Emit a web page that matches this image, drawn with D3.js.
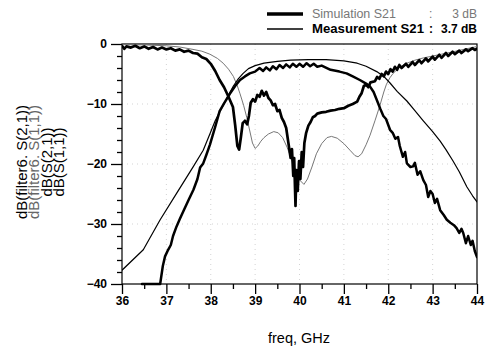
<!DOCTYPE html>
<html><head><meta charset="utf-8">
<script src="https://cdn.jsdelivr.net/npm/d3@7"></script>
<style>
html,body{margin:0;padding:0;background:#fff;}
svg{display:block;font-family:"Liberation Sans",Arial,sans-serif;}
</style></head>
<body><svg id="c" width="486" height="351"></svg>
<script>
// ---- data ----
const xTicks = [36,37,38,39,40,41,42,43,44];
const yTicks = [0,-10,-20,-30,-40];
const legendNames = ["Simulation S21", "Measurement S21"];
const legendValues = ["3 dB", "3.7 dB"];
const yLabelLines = ["dB(filter6. S(2,1))","dB(filter6. S(1,1))","dB(S(2,1))","dB(S(1,1))"];
const xLabel = "freq, GHz";

// thick noisy reflection curve
const s11MeasF = [36.0,36.05,36.1,36.2,36.3,36.4,36.5,36.6,36.7,36.8,36.9,37.0,37.1,37.2,37.3,37.4,37.5,37.6,37.7,37.8,37.9,38.0,38.1,38.2,38.3,38.4,38.5,38.55,38.6,38.64,38.68,38.72,38.77,38.82,38.86,38.9,38.95,39.0,39.05,39.1,39.15,39.2,39.25,39.3,39.35,39.4,39.45,39.5,39.55,39.6,39.65,39.7,39.75,39.8,39.83,39.86,39.88,39.91,39.93,39.96,39.99,40.02,40.05,40.08,40.11,40.15,40.2,40.25,40.3,40.35,40.4,40.5,40.6,40.7,40.8,40.9,41.0,41.1,41.2,41.3,41.35,41.4,41.45,41.5,41.55,41.6,41.7,41.75,41.8,41.85,41.9,41.95,42.0,42.05,42.1,42.15,42.2,42.25,42.3,42.4,42.45,42.55,42.6,42.7,42.75,42.85,42.9,43.0,43.05,43.15,43.2,43.3,43.35,43.45,43.5,43.6,43.65,43.75,43.8,43.9,43.95,44.0];
const s11MeasDb = [-0.3,-0.8,-0.4,-0.6,-0.3,-0.7,-0.4,-0.8,-0.5,-0.9,-0.6,-0.9,-0.7,-1.1,-0.9,-1.3,-1.1,-1.5,-1.6,-2.2,-2.5,-3.3,-4.5,-6.0,-7.2,-8.8,-10.5,-13.5,-17.0,-17.6,-15.5,-13.2,-12.8,-13.4,-12.0,-9.8,-9.2,-9.6,-8.5,-8.8,-7.8,-8.6,-8.0,-9.0,-9.4,-10.2,-10.0,-11.2,-11.0,-12.3,-13.0,-14.0,-16.5,-19.0,-17.5,-22.0,-19.0,-27.0,-21.0,-24.5,-19.5,-22.5,-18.0,-20.5,-16.5,-14.8,-13.6,-13.0,-12.2,-12.0,-11.6,-11.4,-11.3,-11.1,-11.0,-10.8,-10.7,-10.3,-10.0,-9.6,-8.8,-8.2,-7.0,-6.8,-7.2,-6.4,-6.2,-5.5,-5.8,-5.0,-5.4,-4.6,-5.0,-4.2,-4.6,-3.8,-4.3,-3.5,-4.0,-3.3,-3.8,-3.0,-3.5,-2.7,-3.2,-2.4,-2.9,-2.1,-2.6,-1.8,-2.3,-1.5,-2.0,-1.3,-1.7,-1.1,-1.5,-0.9,-1.2,-0.7,-1.0,-0.8];

// thick noisy transmission curve
const s21MeasF = [36.45,36.86,36.92,36.97,37.04,37.1,37.15,37.23,37.3,37.38,37.5,37.61,37.7,37.76,37.83,37.9,37.98,38.1,38.2,38.3,38.43,38.55,38.66,38.77,38.88,39.0,39.1,39.18,39.25,39.33,39.4,39.48,39.55,39.63,39.7,39.78,39.85,39.93,40.0,40.08,40.16,40.24,40.32,40.4,40.5,40.7,40.9,41.06,41.2,41.36,41.5,41.59,41.67,41.74,41.82,41.89,41.95,42.04,42.1,42.16,42.22,42.26,42.33,42.38,42.42,42.5,42.56,42.6,42.66,42.72,42.79,42.85,42.9,42.95,43.0,43.05,43.1,43.17,43.25,43.32,43.4,43.48,43.54,43.6,43.65,43.69,43.75,43.8,43.86,43.9,43.95,44.0];
const s21MeasDb = [-40,-40,-37.0,-35.4,-34.3,-33.5,-32.0,-30.4,-29.2,-27.9,-26.0,-24.3,-22.5,-20.6,-19.9,-18.5,-16.8,-13.8,-11.2,-9.9,-8.3,-7.0,-6.0,-5.4,-4.9,-4.6,-4.0,-4.5,-3.9,-4.4,-3.7,-4.2,-3.5,-4.0,-3.4,-3.9,-3.3,-3.8,-3.3,-3.8,-3.2,-3.7,-3.3,-3.8,-3.6,-4.3,-4.6,-4.9,-5.4,-6.0,-6.6,-7.1,-8.0,-9.3,-10.8,-12.0,-12.5,-14.3,-14.8,-15.8,-15.5,-17.0,-18.8,-18.0,-19.9,-20.5,-20.4,-19.8,-21.8,-21.2,-22.7,-23.5,-25.5,-24.5,-25.0,-26.5,-25.8,-27.7,-28.5,-29.3,-29.8,-30.2,-30.7,-31.5,-30.8,-31.5,-33.2,-32.0,-33.5,-32.8,-34.5,-35.5];

// thin smooth transmission curve
const s21SimF = [36.0,36.48,36.86,37.23,37.61,37.83,37.98,38.1,38.28,38.4,38.51,38.62,38.73,38.85,39.0,39.2,39.5,39.8,40.2,40.6,41.0,41.3,41.5,41.74,41.9,42.04,42.2,42.42,42.6,42.79,43.0,43.17,43.3,43.46,43.6,43.77,43.9,44.0];
const s21SimDb = [-37.7,-34.3,-29.3,-24.9,-20.4,-17.7,-15.0,-12.8,-10.2,-8.5,-7.0,-5.8,-4.9,-4.1,-3.6,-3.2,-2.9,-2.7,-2.6,-2.6,-2.8,-3.2,-3.7,-4.6,-5.4,-6.5,-7.9,-9.5,-11.1,-12.8,-14.6,-16.2,-17.6,-19.5,-21.3,-23.8,-25.3,-26.3];

// thin smooth reflection curve
const s11SimF = [36.0,36.5,37.0,37.3,37.6,37.8,37.98,38.15,38.28,38.4,38.51,38.6,38.66,38.74,38.81,38.88,38.94,39.0,39.06,39.13,39.2,39.3,39.42,39.52,39.62,39.72,39.82,39.92,40.02,40.1,40.18,40.28,40.38,40.5,40.62,40.72,40.85,41.0,41.15,41.25,41.32,41.4,41.5,41.59,41.7,41.81,41.9,41.96,42.04,42.11,42.25,42.42,42.6,42.8,42.94,43.2,43.46,43.7,43.95,44.0];
const s11SimDb = [-0.1,-0.15,-0.3,-0.5,-0.9,-1.2,-1.7,-2.4,-3.2,-4.2,-5.4,-7.0,-8.3,-10.2,-12.2,-14.5,-16.5,-17.4,-17.0,-16.2,-15.6,-15.0,-14.6,-14.8,-15.6,-17.2,-19.2,-21.3,-22.8,-23.4,-22.5,-20.5,-18.3,-16.6,-15.6,-15.4,-15.7,-16.6,-17.8,-18.6,-18.8,-18.3,-16.8,-15.2,-12.8,-10.3,-8.0,-6.7,-5.6,-4.9,-3.9,-3.2,-2.7,-2.3,-2.1,-1.7,-1.3,-0.9,-0.5,-0.4];

// ---- chart ----
const svg = d3.select("#c");
const L = 122, R = 477, T = 44, B = 284;
const x = d3.scaleLinear().domain([36,44]).range([L,R]);
const y = d3.scaleLinear().domain([-40,0]).range([B,T]);

// faint dotted grid
const g = svg.append("g");
g.selectAll(".gx").data(xTicks.slice(1,-1)).join("line")
  .attr("x1",d=>x(d)).attr("x2",d=>x(d)).attr("y1",T).attr("y2",B)
  .attr("stroke","#c8c8c8").attr("stroke-width",0.8).attr("stroke-dasharray","1,4");
g.selectAll(".gy").data(yTicks.slice(1,-1)).join("line")
  .attr("y1",d=>y(d)).attr("y2",d=>y(d)).attr("x1",L).attr("x2",R)
  .attr("stroke","#c8c8c8").attr("stroke-width",0.8).attr("stroke-dasharray","1,4");

// frame
svg.append("rect").attr("x",L).attr("y",T).attr("width",R-L).attr("height",B-T)
  .attr("fill","none").attr("stroke","#000").attr("stroke-width",1.2);

// axes
const xAxis = d3.axisBottom(x).tickValues(xTicks).tickSize(10).tickFormat(d3.format("d"));
const xMinor = d3.axisBottom(x).tickValues(d3.range(36.5,44,1)).tickSize(5).tickFormat("");
const yAxis = d3.axisLeft(y).tickValues(yTicks).tickSize(11).tickFormat(d3.format("d"));
const yMinor = d3.axisLeft(y).tickValues(d3.range(-38,0,2).filter(v=>v%10!==0)).tickSize(5).tickFormat("");

function styleAxis(sel){
  sel.select(".domain").remove();
  sel.selectAll("line").attr("stroke","#000").attr("stroke-width",1.3);
  sel.selectAll("text").attr("fill","#000").style("font-size","12px").style("font-weight","bold")
    .style("font-family","'Liberation Sans',Arial,sans-serif");
}
svg.append("g").attr("transform",`translate(0,${B})`).call(xAxis).call(styleAxis)
  .selectAll("text").attr("dy","0.85em").attr("y",11);
svg.append("g").attr("transform",`translate(0,${B})`).call(xMinor).call(styleAxis);
svg.append("g").attr("transform",`translate(${L},0)`).call(yAxis).call(styleAxis)
  .selectAll("text").attr("x",-15);
svg.append("g").attr("transform",`translate(${L},0)`).call(yMinor).call(styleAxis);

// clip
svg.append("clipPath").attr("id","pc").append("rect")
  .attr("x",L).attr("y",T-1).attr("width",R-L).attr("height",B-T+3);

const line = d3.line().x(d=>x(d[0])).y(d=>y(d[1])).curve(d3.curveLinear);
const series = [
  {f:s11SimF, v:s11SimDb, w:1.0, c:"#777"},
  {f:s21SimF, v:s21SimDb, w:1.2, c:"#000"},
  {f:s21MeasF, v:s21MeasDb, w:2.5, c:"#000"},
  {f:s11MeasF, v:s11MeasDb, w:2.7, c:"#000"}
];
const pg = svg.append("g").attr("clip-path","url(#pc)");
series.forEach(s=>{
  pg.append("path").datum(s.f.map((f,i)=>[f,s.v[i]]))
    .attr("d",line).attr("fill","none").attr("stroke",s.c)
    .attr("stroke-width",s.w).attr("stroke-linejoin","round").attr("stroke-linecap","round");
});

// legend
const lg = svg.append("g").style("font-size","12px");
lg.append("line").attr("x1",267).attr("x2",303).attr("y1",14).attr("y2",14)
  .attr("stroke","#000").attr("stroke-width",3.5);
lg.append("line").attr("x1",267).attr("x2",303).attr("y1",29).attr("y2",29)
  .attr("stroke","#000").attr("stroke-width",1.3);
lg.append("text").attr("x",312).attr("y",18).attr("fill","#777").text(legendNames[0])
  .attr("textLength",84).attr("lengthAdjust","spacingAndGlyphs");
lg.append("text").attr("x",429).attr("y",18).attr("fill","#777").text(":");
lg.append("text").attr("x",477).attr("y",18).attr("fill","#777").attr("text-anchor","end").text(legendValues[0]);
lg.append("text").attr("x",312).attr("y",33).attr("fill","#000").style("font-weight","bold").text(legendNames[1])
  .attr("textLength",112).attr("lengthAdjust","spacingAndGlyphs");
lg.append("text").attr("x",429).attr("y",33).attr("fill","#000").style("font-weight","bold").text(":");
lg.append("text").attr("x",477).attr("y",33).attr("fill","#000").style("font-weight","bold").attr("text-anchor","end").text(legendValues[1]);

// y label (rotated lines)
const yl = [{t:yLabelLines[0],x:27,c:"#000"},{t:yLabelLines[1],x:39,c:"#666"},{t:yLabelLines[2],x:52,c:"#000"},{t:yLabelLines[3],x:64,c:"#000"}];
yl.forEach(d=>{
  svg.append("text").attr("transform",`translate(${d.x},162) rotate(-90)`)
    .attr("text-anchor","middle").attr("fill",d.c).style("font-size","15px").text(d.t);
});

// x label
svg.append("text").attr("x",299).attr("y",343).attr("text-anchor","middle")
  .style("font-size","14.5px").attr("fill","#000").text(xLabel);
</script></body></html>
